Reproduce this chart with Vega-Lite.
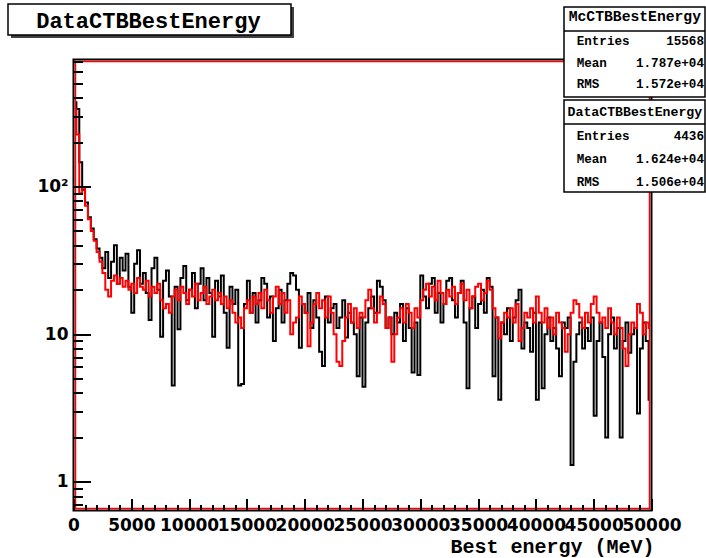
{
"$schema": "https://vega.github.io/schema/vega-lite/v6.json",
"width": 578, "height": 451,
"autosize": {"type": "none"},
"padding": {"left": 73.5, "top": 59.5, "right": 54.5, "bottom": 47.5},
"background": "#ffffff",
"config": {"view": {"stroke": "#000000", "strokeWidth": 2}, "axis": {"labelOverlap": false, "labelBound": false, "labelFlush": false, "zindex": 1, "ticks": true}},
"resolve": {"axis": {"x": "independent", "y": "independent"}},
"data": {"values": [
{"E":125,"data":372,"mc":331},{"E":375,"data":335,"mc":225},{"E":625,"data":146,"mc":90},{"E":875,"data":95,"mc":98},{"E":1125,"data":78,"mc":74},{"E":1375,"data":62,"mc":60},{"E":1625,"data":52,"mc":50},{"E":1875,"data":44,"mc":43},{"E":2125,"data":38,"mc":36},{"E":2375,"data":33,"mc":31},
{"E":2625,"data":28,"mc":26},{"E":2875,"data":36,"mc":20},{"E":3125,"data":24,"mc":18},{"E":3375,"data":31,"mc":23},{"E":3625,"data":40,"mc":25},{"E":3875,"data":22,"mc":22},{"E":4125,"data":33,"mc":24},{"E":4375,"data":27,"mc":21},{"E":4625,"data":35,"mc":23},{"E":4875,"data":21,"mc":20},
{"E":5125,"data":14,"mc":22},{"E":5375,"data":30,"mc":19},{"E":5625,"data":37,"mc":24},{"E":5875,"data":22,"mc":21},{"E":6125,"data":26,"mc":20},{"E":6375,"data":19,"mc":23},{"E":6625,"data":12.5,"mc":18},{"E":6875,"data":28,"mc":21},{"E":7125,"data":33,"mc":19},{"E":7375,"data":20,"mc":22},
{"E":7625,"data":9.6,"mc":17},{"E":7875,"data":23,"mc":15},{"E":8125,"data":27,"mc":16},{"E":8375,"data":18,"mc":14},{"E":8625,"data":4.5,"mc":18},{"E":8875,"data":21,"mc":20},{"E":9125,"data":10.8,"mc":17},{"E":9375,"data":24,"mc":21},{"E":9625,"data":29,"mc":19},{"E":9875,"data":17,"mc":16},
{"E":10125,"data":20,"mc":20},{"E":10375,"data":26,"mc":18},{"E":10625,"data":15,"mc":22},{"E":10875,"data":22,"mc":17},{"E":11125,"data":28,"mc":19},{"E":11375,"data":17,"mc":21},{"E":11625,"data":24,"mc":16},{"E":11875,"data":19,"mc":18},{"E":12125,"data":9.6,"mc":20},{"E":12375,"data":23,"mc":17},
{"E":12625,"data":18,"mc":19},{"E":12875,"data":25,"mc":16},{"E":13125,"data":14,"mc":18},{"E":13375,"data":8.1,"mc":15},{"E":13625,"data":21,"mc":17},{"E":13875,"data":16,"mc":14},{"E":14125,"data":20,"mc":12},{"E":14375,"data":4.5,"mc":13},{"E":14625,"data":4.6,"mc":11},{"E":14875,"data":16,"mc":15},
{"E":15125,"data":23,"mc":17},{"E":15375,"data":14,"mc":14},{"E":15625,"data":19,"mc":18},{"E":15875,"data":12,"mc":16},{"E":16125,"data":17,"mc":19},{"E":16375,"data":24,"mc":15},{"E":16625,"data":22,"mc":20},{"E":16875,"data":13,"mc":17},{"E":17125,"data":18,"mc":14},{"E":17375,"data":9,"mc":18},
{"E":17625,"data":15,"mc":21},{"E":17875,"data":20,"mc":16},{"E":18125,"data":12,"mc":19},{"E":18375,"data":17,"mc":14},{"E":18625,"data":22,"mc":17},{"E":18875,"data":26,"mc":10},{"E":19125,"data":25,"mc":12},{"E":19375,"data":20,"mc":13},{"E":19625,"data":8.1,"mc":18},{"E":19875,"data":16,"mc":16},
{"E":20125,"data":14,"mc":14},{"E":20375,"data":19,"mc":8.3},{"E":20625,"data":11,"mc":12},{"E":20875,"data":17,"mc":16},{"E":21125,"data":13,"mc":19},{"E":21375,"data":7.6,"mc":15},{"E":21625,"data":6.1,"mc":17},{"E":21875,"data":18,"mc":13},{"E":22125,"data":12,"mc":18},{"E":22375,"data":15,"mc":14},
{"E":22625,"data":16,"mc":10},{"E":22875,"data":11,"mc":6.5},{"E":23125,"data":13,"mc":6.1},{"E":23375,"data":17,"mc":9},{"E":23625,"data":9.5,"mc":13},{"E":23875,"data":14,"mc":16},{"E":24125,"data":12,"mc":12},{"E":24375,"data":10,"mc":15},{"E":24625,"data":5.2,"mc":11},{"E":24875,"data":13,"mc":14},
{"E":25125,"data":4.4,"mc":13},{"E":25375,"data":12,"mc":17},{"E":25625,"data":15,"mc":20},{"E":25875,"data":18,"mc":15},{"E":26125,"data":14,"mc":12},{"E":26375,"data":23,"mc":14},{"E":26625,"data":21,"mc":18},{"E":26875,"data":17,"mc":16},{"E":27125,"data":11,"mc":11},{"E":27375,"data":13,"mc":13},
{"E":27625,"data":10,"mc":6.5},{"E":27875,"data":14,"mc":10},{"E":28125,"data":12,"mc":13},{"E":28375,"data":16,"mc":15},{"E":28625,"data":9,"mc":12},{"E":28875,"data":15,"mc":16},{"E":29125,"data":11,"mc":14},{"E":29375,"data":5.5,"mc":11},{"E":29625,"data":12,"mc":15},{"E":29875,"data":5.3,"mc":13},
{"E":30125,"data":25,"mc":17},{"E":30375,"data":18,"mc":20},{"E":30625,"data":15,"mc":22},{"E":30875,"data":22,"mc":18},{"E":31125,"data":24,"mc":21},{"E":31375,"data":14,"mc":17},{"E":31625,"data":19,"mc":23},{"E":31875,"data":12,"mc":19},{"E":32125,"data":16,"mc":16},{"E":32375,"data":23,"mc":20},
{"E":32625,"data":24,"mc":18},{"E":32875,"data":17,"mc":21},{"E":33125,"data":13,"mc":16},{"E":33375,"data":19,"mc":19},{"E":33625,"data":23,"mc":22},{"E":33875,"data":12,"mc":17},{"E":34125,"data":4.3,"mc":20},{"E":34375,"data":15,"mc":15},{"E":34625,"data":18,"mc":18},{"E":34875,"data":11,"mc":21},
{"E":35125,"data":16,"mc":22},{"E":35375,"data":20,"mc":17},{"E":35625,"data":14,"mc":19},{"E":35875,"data":24,"mc":23},{"E":36125,"data":21,"mc":20},{"E":36375,"data":5.2,"mc":15},{"E":36625,"data":13,"mc":13},{"E":36875,"data":3.6,"mc":9.4},{"E":37125,"data":12,"mc":12},{"E":37375,"data":10,"mc":14},
{"E":37625,"data":15,"mc":13},{"E":37875,"data":9,"mc":15},{"E":38125,"data":13,"mc":12},{"E":38375,"data":17,"mc":16},{"E":38625,"data":20,"mc":9},{"E":38875,"data":8,"mc":11},{"E":39125,"data":12,"mc":14},{"E":39375,"data":11,"mc":13},{"E":39625,"data":7.6,"mc":15},{"E":39875,"data":14,"mc":12},
{"E":40125,"data":3.6,"mc":18},{"E":40375,"data":12,"mc":14},{"E":40625,"data":4.3,"mc":12},{"E":40875,"data":10,"mc":15},{"E":41125,"data":13,"mc":11},{"E":41375,"data":9,"mc":13},{"E":41625,"data":11,"mc":10},{"E":41875,"data":8,"mc":14},{"E":42125,"data":5.2,"mc":12},{"E":42375,"data":12,"mc":11},
{"E":42625,"data":11,"mc":7.6},{"E":42875,"data":13,"mc":10},{"E":43125,"data":1.3,"mc":14},{"E":43375,"data":6.5,"mc":17},{"E":43625,"data":10,"mc":16},{"E":43875,"data":12,"mc":13},{"E":44125,"data":8,"mc":11},{"E":44375,"data":11,"mc":14},{"E":44625,"data":9,"mc":12},{"E":44875,"data":13,"mc":16},
{"E":45125,"data":2.8,"mc":18},{"E":45375,"data":9,"mc":14},{"E":45625,"data":12,"mc":12},{"E":45875,"data":7,"mc":13},{"E":46125,"data":2.0,"mc":11},{"E":46375,"data":10,"mc":15},{"E":46625,"data":13,"mc":12},{"E":46875,"data":8,"mc":10},{"E":47125,"data":11,"mc":13},{"E":47375,"data":2.0,"mc":11},
{"E":47625,"data":9,"mc":8},{"E":47875,"data":12,"mc":6.1},{"E":48125,"data":7.5,"mc":10},{"E":48375,"data":10,"mc":12},{"E":48625,"data":11,"mc":11},{"E":48875,"data":2.9,"mc":16},{"E":49125,"data":8,"mc":14},{"E":49375,"data":12,"mc":10},{"E":49625,"data":9,"mc":12},{"E":49875,"data":3.6,"mc":11}
]},
"layer": [
{
"mark": {"type": "line", "interpolate": "step", "color": "#000000", "strokeWidth": 2},
"encoding": {
"x": {"field": "E", "type": "quantitative", "scale": {"domain": [0, 50000], "nice": false, "zero": false},
 "axis": {
 "orient": "bottom", "offset": -12, "zindex": 1, "ticks": true,
 "values": [0,5000,10000,15000,20000,25000,30000,35000,40000,45000,50000],
 "labelExpr": "format(datum.value, 'd')",
 "tickSize": 12, "tickColor": "#000000", "tickWidth": 2, "tickOpacity": 1,
 "domain": false, "grid": false,
 "labelFont": "DejaVu Sans", "labelFontWeight": "bold", "labelFontSize": 17, "labelColor": "#000000",
 "labelPadding": 6.5, "labelOverlap": false, "labelFlush": false, "labelBound": false,
 "title": "Best energy (MeV)", "titleFont": "Liberation Mono", "titleFontWeight": "bold", "titleFontSize": 20, "titleColor": "#000000",
 "titleAnchor": "end", "titleAlign": "right", "titleBaseline": "alphabetic", "titleX": 580.5, "titleY": 53.5
 }},
"y": {"field": "data", "type": "quantitative", "scale": {"type": "log", "domain": [0.64, 725], "nice": false},
 "axis": {
 "orient": "left", "offset": -17, "zindex": 1, "ticks": true,
 "values": [1, 10, 100],
 "labelExpr": "datum.value === 1 ? '1' : datum.value === 10 ? '10' : '10²'",
 "tickSize": 17, "tickColor": "#000000", "tickWidth": 2, "tickOpacity": 1,
 "domain": false, "grid": false,
 "labelFont": "DejaVu Sans", "labelFontWeight": "bold", "labelFontSize": 17, "labelColor": "#000000",
 "labelPadding": 5.5, "labelOverlap": false, "labelFlush": false, "labelBound": false,
 "title": null
 }}
}
},
{
"mark": {"type": "line", "interpolate": "step", "color": "#ff0000", "strokeWidth": 2},
"encoding": {
"x": {"field": "E", "type": "quantitative", "scale": {"domain": [0, 50000], "nice": false, "zero": false},
 "axis": {
 "orient": "bottom", "offset": -6, "zindex": 1, "ticks": true,
 "values": [1000,2000,3000,4000,6000,7000,8000,9000,11000,12000,13000,14000,16000,17000,18000,19000,21000,22000,23000,24000,26000,27000,28000,29000,31000,32000,33000,34000,36000,37000,38000,39000,41000,42000,43000,44000,46000,47000,48000,49000],
 "labels": false, "tickSize": 6, "tickColor": "#000000", "tickWidth": 2, "tickOpacity": 1,
 "domain": false, "grid": false, "title": null
 }},
"y": {"field": "mc", "type": "quantitative", "scale": {"type": "log", "domain": [0.64, 725], "nice": false},
 "axis": {
 "orient": "left", "offset": -9, "zindex": 1, "ticks": true,
 "values": [0.7,0.8,0.9,2,3,4,5,6,7,8,9,20,30,40,50,60,70,80,90,200,300,400,500,600,700],
 "labels": false, "tickSize": 9, "tickColor": "#000000", "tickWidth": 2, "tickOpacity": 1,
 "domain": false, "grid": false, "title": null
 }}
}
},
{
"data": {"values": [{}]},
"mark": {"type": "rect", "filled": false, "color": "#ff0000", "strokeWidth": 1.5},
"encoding": {
"x": {"datum": 173, "type": "quantitative", "scale": {"domain": [0, 50000], "nice": false, "zero": false}, "axis": null},
"x2": {"datum": 49827},
"y": {"datum": 0.6605, "type": "quantitative", "scale": {"type": "log", "domain": [0.64, 725], "nice": false}, "axis": null},
"y2": {"datum": 702.8}
}
},
{
"data": {"values": [{}]},
"mark": {"type": "rect", "fill": "#404040", "strokeWidth": 0},
"encoding": {
"x": {"datum": -5406.6, "type": "quantitative", "scale": {"domain": [0, 50000], "nice": false, "zero": false}, "axis": null},
"x2": {"datum": 19074.4},
"y": {"datum": 1643.6, "type": "quantitative", "scale": {"type": "log", "domain": [0.64, 725], "nice": false}, "axis": null},
"y2": {"datum": 1013.7}
}
},
{
"data": {"values": [{}]},
"mark": {"type": "rect", "fill": "#ffffff", "stroke": "#000000", "strokeWidth": 1.5},
"encoding": {
"x": {"datum": -5666.1, "type": "quantitative", "scale": {"domain": [0, 50000], "nice": false, "zero": false}, "axis": null},
"x2": {"datum": 18814.8},
"y": {"datum": 1722.4, "type": "quantitative", "scale": {"type": "log", "domain": [0.64, 725], "nice": false}, "axis": null},
"y2": {"datum": 1062.2}
}
},
{
"data": {"values": [{}]},
"mark": {"type": "text", "font": "Liberation Mono", "fontWeight": "bold", "fontSize": 22, "align": "center", "baseline": "alphabetic", "color": "#000000"},
"encoding": {
"x": {"datum": 6479, "type": "quantitative", "scale": {"domain": [0, 50000], "nice": false, "zero": false}, "axis": null},
"y": {"datum": 1194, "type": "quantitative", "scale": {"type": "log", "domain": [0.64, 725], "nice": false}, "axis": null},
"text": {"value": "DataCTBBestEnergy"}
}
},
{
"data": {"values": [{}]},
"mark": {"type": "rect", "fill": "#ffffff", "stroke": "#000000", "strokeWidth": 1.5},
"encoding": {
"x": {"datum": 42431, "type": "quantitative", "scale": {"domain": [0, 50000], "nice": false, "zero": false}, "axis": null},
"x2": {"datum": 54628},
"y": {"datum": 1643.6, "type": "quantitative", "scale": {"type": "log", "domain": [0.64, 725], "nice": false}, "axis": null},
"y2": {"datum": 404.0}
}
},
{
"data": {"values": [{}]},
"mark": {"type": "rule", "color": "#000000", "strokeWidth": 1.5},
"encoding": {
"x": {"datum": 42431, "type": "quantitative", "scale": {"domain": [0, 50000], "nice": false, "zero": false}, "axis": null},
"x2": {"datum": 54628},
"y": {"datum": 1130.6, "type": "quantitative", "scale": {"type": "log", "domain": [0.64, 725], "nice": false}, "axis": null}
}
},
{
"data": {"values": [{}]},
"mark": {"type": "text", "font": "Liberation Mono", "fontWeight": "bold", "fontSize": 14.7, "align": "center", "baseline": "alphabetic", "color": "#000000"},
"encoding": {
"x": {"datum": 48560, "type": "quantitative", "scale": {"domain": [0, 50000], "nice": false, "zero": false}, "axis": null},
"y": {"datum": 1331.7, "type": "quantitative", "scale": {"type": "log", "domain": [0.64, 725], "nice": false}, "axis": null},
"text": {"value": "McCTBBestEnergy"}
}
},
{
"data": {"values": [{}]},
"mark": {"type": "text", "font": "Liberation Mono", "fontWeight": "bold", "fontSize": 12.6, "align": "left", "baseline": "alphabetic", "lineHeight": 21.7, "color": "#000000"},
"encoding": {
"x": {"datum": 43529, "type": "quantitative", "scale": {"domain": [0, 50000], "nice": false, "zero": false}, "axis": null},
"y": {"datum": 908.9, "type": "quantitative", "scale": {"type": "log", "domain": [0.64, 725], "nice": false}, "axis": null},
"text": {"value": ["Entries", "Mean", "RMS"]}
}
},
{
"data": {"values": [{}]},
"mark": {"type": "text", "font": "Liberation Mono", "fontWeight": "bold", "fontSize": 12.6, "align": "right", "baseline": "alphabetic", "lineHeight": 21.7, "color": "#000000"},
"encoding": {
"x": {"datum": 54541, "type": "quantitative", "scale": {"domain": [0, 50000], "nice": false, "zero": false}, "axis": null},
"y": {"datum": 908.9, "type": "quantitative", "scale": {"type": "log", "domain": [0.64, 725], "nice": false}, "axis": null},
"text": {"value": ["15568", "1.787e+04", "1.572e+04"]}
}
},
{
"data": {"values": [{}]},
"mark": {"type": "rect", "fill": "#ffffff", "stroke": "#000000", "strokeWidth": 1.5},
"encoding": {
"x": {"datum": 42431, "type": "quantitative", "scale": {"domain": [0, 50000], "nice": false, "zero": false}, "axis": null},
"x2": {"datum": 54628},
"y": {"datum": 385.5, "type": "quantitative", "scale": {"type": "log", "domain": [0.64, 725], "nice": false}, "axis": null},
"y2": {"datum": 91.86}
}
},
{
"data": {"values": [{}]},
"mark": {"type": "rule", "color": "#000000", "strokeWidth": 1.5},
"encoding": {
"x": {"datum": 42431, "type": "quantitative", "scale": {"domain": [0, 50000], "nice": false, "zero": false}, "axis": null},
"x2": {"datum": 54628},
"y": {"datum": 265.2, "type": "quantitative", "scale": {"type": "log", "domain": [0.64, 725], "nice": false}, "axis": null}
}
},
{
"data": {"values": [{}]},
"mark": {"type": "text", "font": "Liberation Mono", "fontWeight": "bold", "fontSize": 13.2, "align": "center", "baseline": "alphabetic", "color": "#000000"},
"encoding": {
"x": {"datum": 48560, "type": "quantitative", "scale": {"domain": [0, 50000], "nice": false, "zero": false}, "axis": null},
"y": {"datum": 300.4, "type": "quantitative", "scale": {"type": "log", "domain": [0.64, 725], "nice": false}, "axis": null},
"text": {"value": "DataCTBBestEnergy"}
}
},
{
"data": {"values": [{}]},
"mark": {"type": "text", "font": "Liberation Mono", "fontWeight": "bold", "fontSize": 12.6, "align": "left", "baseline": "alphabetic", "lineHeight": 22.8, "color": "#000000"},
"encoding": {
"x": {"datum": 43529, "type": "quantitative", "scale": {"domain": [0, 50000], "nice": false, "zero": false}, "axis": null},
"y": {"datum": 206.65, "type": "quantitative", "scale": {"type": "log", "domain": [0.64, 725], "nice": false}, "axis": null},
"text": {"value": ["Entries", "Mean", "RMS"]}
}
},
{
"data": {"values": [{}]},
"mark": {"type": "text", "font": "Liberation Mono", "fontWeight": "bold", "fontSize": 12.6, "align": "right", "baseline": "alphabetic", "lineHeight": 22.8, "color": "#000000"},
"encoding": {
"x": {"datum": 54541, "type": "quantitative", "scale": {"domain": [0, 50000], "nice": false, "zero": false}, "axis": null},
"y": {"datum": 206.65, "type": "quantitative", "scale": {"type": "log", "domain": [0.64, 725], "nice": false}, "axis": null},
"text": {"value": ["4436", "1.624e+04", "1.506e+04"]}
}
}
]
}
